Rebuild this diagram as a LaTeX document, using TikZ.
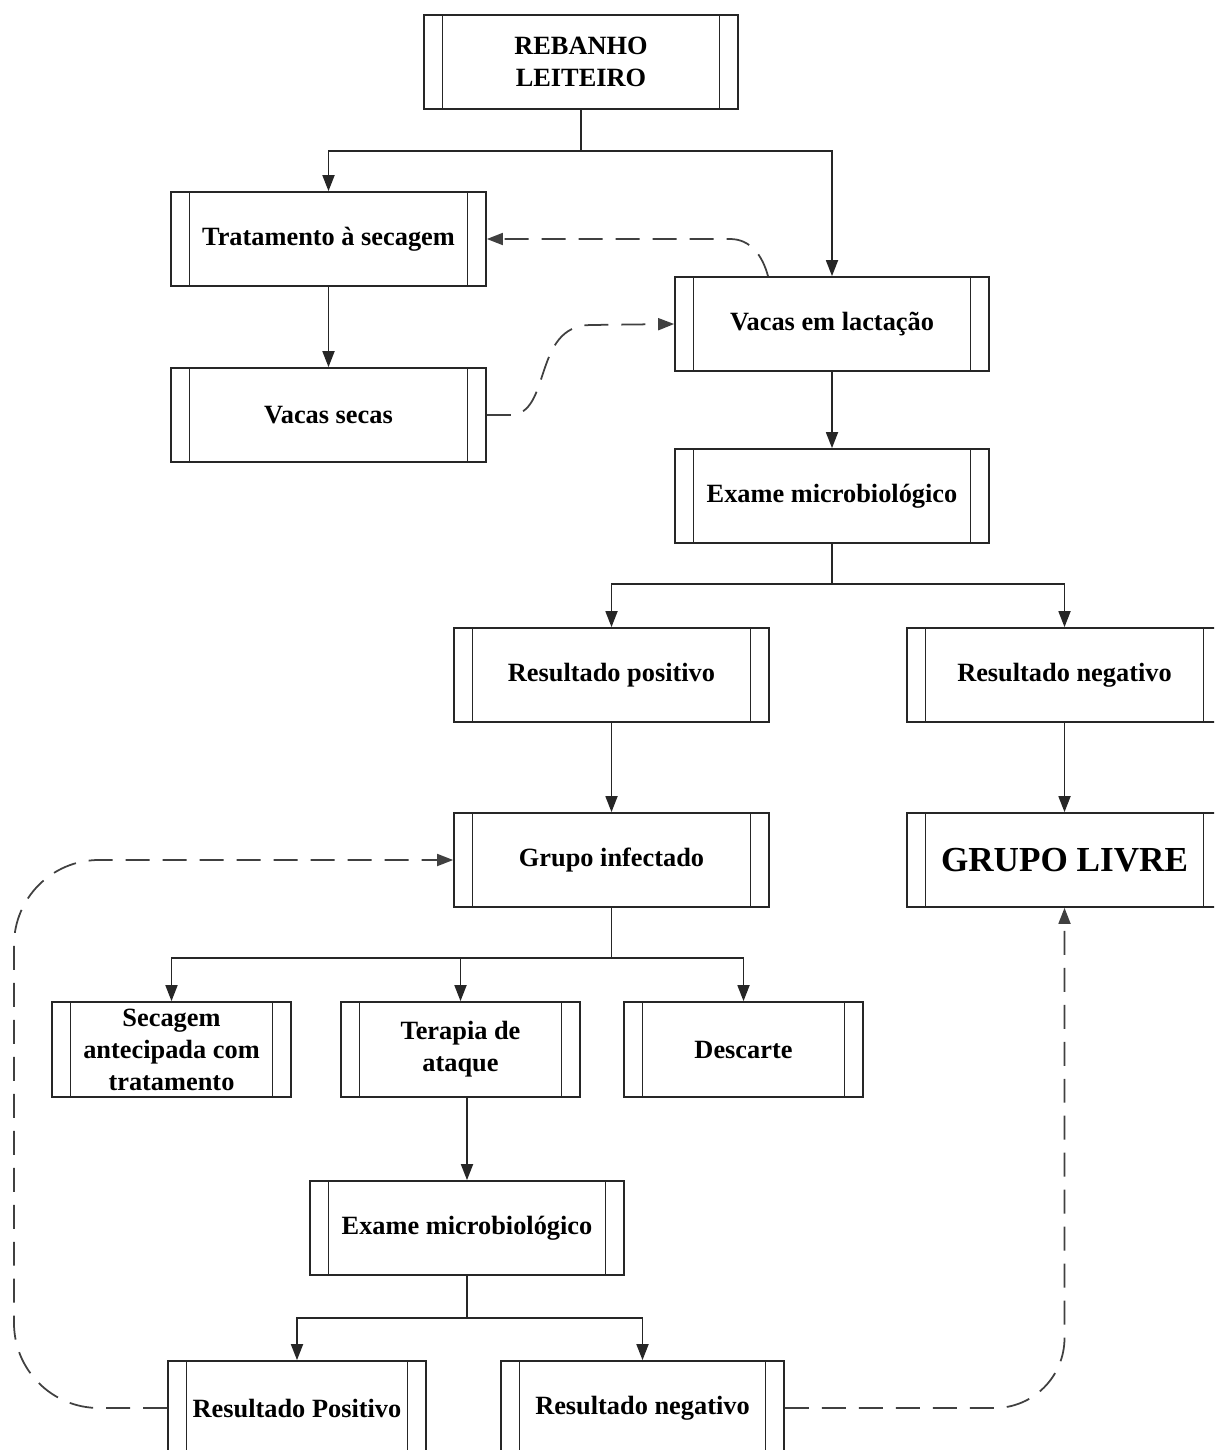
\documentclass[tikz,border=0pt]{standalone}
\usepackage{fontspec}
\setmainfont{Liberation Serif}
\usetikzlibrary{arrows.meta,positioning,calc}

\newcommand\boxfont{\fontsize{15}{18.2}\selectfont\bfseries}
\newcommand\bigboxfont{\fontsize{20}{24}\selectfont\bfseries}

\begin{document}
\begin{tikzpicture}[
  x=0.02cm, y=-0.02cm,
  procbox/.style={rectangle, draw=black!85, line width=1pt,
                  minimum width=6.3cm, minimum height=1.88cm,
                  align=center, font=\boxfont, inner sep=2pt,
                  path picture={
                    \draw[black!85, line width=1pt]
                      ([xshift=0.37cm]path picture bounding box.south west) --
                      ([xshift=0.37cm]path picture bounding box.north west)
                      ([xshift=-0.37cm]path picture bounding box.south east) --
                      ([xshift=-0.37cm]path picture bounding box.north east);}},
  smallbox/.style={procbox, minimum width=4.78cm, minimum height=1.9cm},
  arr/.style={-{Triangle[length=0.32cm, width=0.24cm]}, line width=1pt, black!85},
  line/.style={line width=1pt, black!85},
  dasharr/.style={-{Triangle[length=0.32cm, width=0.24cm]}, line width=1pt,
                  black!75, dash pattern=on 0.48cm off 0.26cm}
]
\clip (0,0) rectangle (1214,1450);

\node[procbox, minimum width=6.28cm] (reb) at (581,62) {REBANHO\\LEITEIRO};
\node[procbox] (trat) at (328.5,239) {Tratamento à secagem};
\node[procbox] (secas) at (328.5,415) {Vacas secas};
\node[procbox, minimum width=6.28cm] (lact) at (832,324) {Vacas em lactação};
\node[procbox, minimum width=6.28cm] (exame) at (832,496) {Exame microbiológico};

\node[procbox] (rpos) at (611.5,675) {Resultado positivo};
\node[procbox] (rneg) at (1064.5,675) {Resultado negativo};
\node[procbox] (ginf) at (611.5,860) {Grupo infectado};
\node[procbox, font=\bigboxfont] (glivre) at (1064.5,860) {GRUPO LIVRE};

\node[smallbox] (secag) at (171.5,1049.5) {Secagem\\antecipada com\\tratamento};
\node[smallbox] (terapia) at (460.5,1049.5) {Terapia de\\ataque};
\node[smallbox] (descarte) at (743.5,1049.5) {Descarte};

\node[procbox, minimum width=6.28cm] (exame2) at (467,1228) {Exame microbiológico};
\node[procbox, minimum width=5.16cm] (rpos2) at (297,1408) {Resultado Positivo};
\node[procbox, minimum width=5.66cm] (rneg2) at (642.5,1408) {Resultado negativo};

\coordinate (j1) at (581,151);
\coordinate (j2) at (832,584);
\coordinate (j3) at (611.5,958);
\coordinate (j4) at (467,1318);

\draw[line] (reb) -- (j1);
\draw[arr] (j1) -| (trat);
\draw[arr] (j1) -| (lact);
\draw[arr] (trat) -- (secas);
\draw[arr] (lact) -- (exame);

\draw[line] (exame) -- (j2);
\draw[arr] (j2) -| (rpos);
\draw[arr] (j2) -| (rneg);
\draw[arr] (rpos) -- (ginf);
\draw[arr] (rneg) -- (glivre);

\draw[line] (ginf) -- (j3);
\draw[arr] (j3) -| (secag);
\draw[arr] (j3) -| (terapia);
\draw[arr] (j3) -| (descarte);
\draw[arr] (terapia.south -| exame2) -- (exame2);

\draw[line] (exame2) -- (j4);
\draw[arr] (j4) -| (rpos2);
\draw[arr] (j4) -| (rneg2);

\draw[dasharr] ([xshift=-1.28cm]lact.north) to[out=105,in=0] (730,239) -- (trat.east);
\draw[dasharr] (secas.east) -- (510,415)
  .. controls (552,415) and (532,326) .. (590,325) -- (lact.west);
\draw[dasharr, rounded corners=1.7cm] (rpos2.west) -| (14,860) -- (ginf.west);
\draw[dasharr, rounded corners=1.4cm] (rneg2.east) -| (glivre.south);
\end{tikzpicture}
\end{document}
